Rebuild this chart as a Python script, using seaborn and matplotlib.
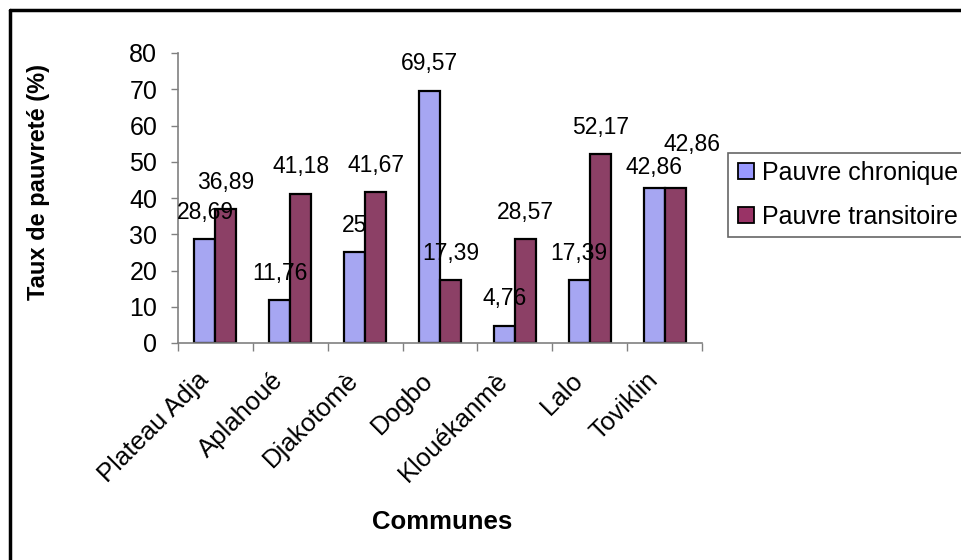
import pandas as pd
import numpy as np
import matplotlib.pyplot as plt
import matplotlib.transforms as mtransforms
import seaborn as sns
from matplotlib.lines import Line2D

# Données
communes = ["Plateau Adja", "Aplahoué", "Djakotomè", "Dogbo", "Klouékanmè", "Lalo", "Toviklin"]
chronique = [28.69, 11.76, 25, 69.57, 4.76, 17.39, 42.86]
transitoire = [36.89, 41.18, 41.67, 17.39, 28.57, 52.17, 42.86]
series = ["Pauvre chronique", "Pauvre transitoire"]
couleurs = ["#9999FF", "#993366"]

df = pd.DataFrame({
    "Commune": communes * 2,
    "Taux": chronique + transitoire,
    "Type": [series[0]] * len(communes) + [series[1]] * len(communes),
})

sns.set_style("white")
plt.rcParams['font.family'] = ['Liberation Sans', 'DejaVu Sans']
plt.rcParams['text.color'] = 'black'
plt.rcParams['axes.labelcolor'] = 'black'
plt.rcParams['xtick.color'] = 'black'
plt.rcParams['ytick.color'] = 'black'

fig = plt.figure(figsize=(9.61, 5.6), dpi=100)
ax = fig.add_axes([178 / 961, 1 - 343 / 560, (702 - 178) / 961, (343 - 53) / 560])

sns.barplot(data=df, x="Commune", y="Taux", hue="Type", palette=couleurs,
            width=0.56, edgecolor="black", linewidth=1.6, ax=ax, legend=False)

ax.set_ylim(0, 80)
ax.set_xlim(-0.5, len(communes) - 0.5)
ax.set_yticks(np.arange(0, 81, 10))
ax.tick_params(axis='y', labelsize=18, length=5, width=1, color='#808080', labelcolor='black',
               direction='out', left=True, pad=10)

# graduations entre catégories (style Excel)
ax.set_xticks(np.arange(len(communes)))
ax.set_xticklabels(communes, rotation=45, ha='right', rotation_mode='anchor', fontsize=18.5)
ax.tick_params(axis='x', which='major', length=0, pad=18, labelcolor='black')
ax.set_xticks(np.arange(len(communes) + 1) - 0.5, minor=True)
ax.tick_params(axis='x', which='minor', length=6, width=1, color='#808080', direction='out', bottom=True)
decal = mtransforms.ScaledTranslation(-0.19, 0, fig.dpi_scale_trans)
for lab in ax.get_xticklabels():
    lab.set_transform(lab.get_transform() + decal)

for s in ['top', 'right']:
    ax.spines[s].set_visible(False)
for s in ['left', 'bottom']:
    ax.spines[s].set_color('#808080')
    ax.spines[s].set_linewidth(1.2)

# étiquettes des valeurs
def fmt(v):
    return ("%g" % v).replace(".", ",")

for i, (c, t) in enumerate(zip(chronique, transitoire)):
    if t == c:
        ax.text(i - 0.14, c + 5.5, fmt(c), ha='center', va='center', fontsize=16.5)
        ax.text(i + 0.37, t + 12, fmt(t), ha='center', va='center', fontsize=16.5)
    else:
        ax.text(i - 0.14, c + 7.4, fmt(c), ha='center', va='center', fontsize=16.5)
        ax.text(i + 0.14, t + 7.4, fmt(t), ha='center', va='center', fontsize=16.5)

ax.set_xlabel("Communes", fontsize=18.5, fontweight='bold', va='top')
ax.xaxis.set_label_coords(0.505, -0.575)
ax.set_ylabel("Taux de pauvreté (%)", fontsize=17, fontweight='bold', va='bottom')
ax.yaxis.set_label_coords(-0.245, 0.555)

handles = [Line2D([0], [0], marker='s', linestyle='', markersize=11, markerfacecolor=col,
                  markeredgecolor='black', markeredgewidth=1.3) for col in couleurs]
leg = fig.legend(handles, series, loc='upper left', bbox_to_anchor=(728 / 961, 1 - 153 / 560),
                 fontsize=18, frameon=True, fancybox=False, handletextpad=0.25,
                 borderpad=0.32, labelspacing=0.8, handlelength=0.8, borderaxespad=0)
leg.get_frame().set_edgecolor('#404040')
leg.get_frame().set_linewidth(1.2)

# cadre du graphique
fig.add_artist(Line2D([10 / 961, 10 / 961], [0, 1 - 10 / 560], color='black', linewidth=2.5))
fig.add_artist(Line2D([10 / 961, 1], [1 - 10 / 560, 1 - 10 / 560], color='black', linewidth=2.5))

fig.savefig("out.png", dpi=100)
